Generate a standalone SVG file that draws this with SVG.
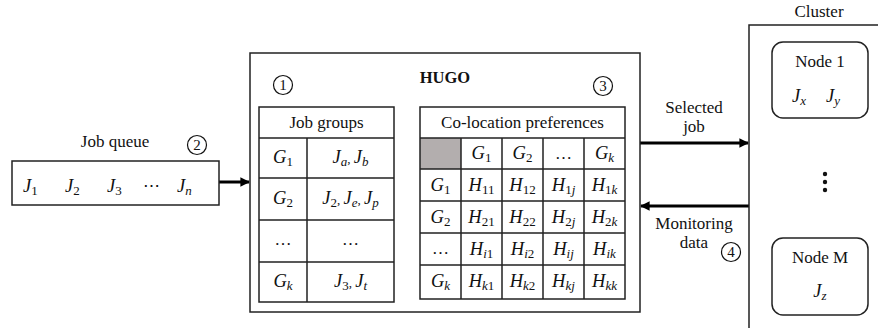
<svg xmlns="http://www.w3.org/2000/svg" width="878" height="328" viewBox="0 0 878 328" font-family="'Liberation Serif', Tinos, 'Times New Roman', 'DejaVu Serif', serif">
<style>
text{font-family:'Liberation Serif',Tinos,'Times New Roman','DejaVu Serif',serif;fill:#111}
.t{font-size:17px}
.c{text-anchor:middle}
.m{font-size:18.5px;font-style:italic;text-anchor:middle}
.ms{font-size:18.5px;font-style:italic}
.s{font-size:13px;font-style:normal}
.i{font-style:italic}
.box{fill:#fff;stroke:#222;stroke-width:1.5}
.grid{fill:none;stroke:#222;stroke-width:1.5}
.num{fill:#fff;stroke:#111;stroke-width:1.2}
.nt{font-size:15px;text-anchor:middle}
.arr{stroke:#000;stroke-width:3;fill:none}
</style>
<defs>
<marker id="ah" viewBox="0 0 10 10" refX="9" refY="5" markerWidth="3.2" markerHeight="3.2" orient="auto" markerUnits="strokeWidth">
<path d="M0,0 L10,5 L0,10 Z" fill="#000"/>
</marker>
</defs>

<g id="connectors">
<line class="arr" x1="219" y1="182" x2="249" y2="182" marker-end="url(#ah)"/>
<line class="arr" x1="640" y1="143" x2="748" y2="143" marker-end="url(#ah)"/>
<line class="arr" x1="749" y1="206" x2="641" y2="206" marker-end="url(#ah)"/>
<text class="t c" x="694" y="113">Selected</text>
<text class="t c" x="694" y="132">job</text>
<text class="t c" x="694" y="229">Monitoring</text>
<text class="t c" x="694" y="248">data</text>
<circle class="num" cx="731" cy="252" r="9.5"/>
<text class="nt" x="731" y="257">4</text>
</g>

<g id="job-queue">
<text class="t c" x="115" y="147">Job queue</text>
<circle class="num" cx="197" cy="145" r="9.5"/>
<text class="nt" x="197" y="150">2</text>
<rect class="box" x="12" y="161" width="207" height="44"/>
<text class="ms" x="23" y="192">J<tspan class="s" dy="3">1</tspan></text>
<text class="ms" x="65" y="192">J<tspan class="s" dy="3">2</tspan></text>
<text class="ms" x="107" y="192">J<tspan class="s" dy="3">3</tspan></text>
<text class="t" x="143" y="191">⋯</text>
<text class="ms" x="177" y="192">J<tspan class="s i" dy="3">n</tspan></text>
</g>

<g id="hugo">
<rect class="box" x="250" y="53" width="390" height="259"/>
<text x="445" y="83" style="font-size:16.5px;font-weight:bold;text-anchor:middle">HUGO</text>
<circle class="num" cx="283" cy="85" r="9.5"/>
<text class="nt" x="283" y="90">1</text>
<circle class="num" cx="603" cy="86" r="9.5"/>
<text class="nt" x="603" y="91">3</text>

<g id="job-groups">
<rect class="grid" x="259" y="107" width="135" height="195" fill="#fff"/>
<path class="grid" d="M259,138H394M259,178H394M259,220H394M259,262H394M307,138V302"/>
<text class="t c" x="326.5" y="128">Job groups</text>
<text class="m" x="283" y="163">G<tspan class="s" dy="3">1</tspan></text>
<text class="m" x="283" y="204">G<tspan class="s" dy="3">2</tspan></text>
<text class="t c" x="283" y="245">…</text>
<text class="m" x="283" y="287">G<tspan class="s i" dy="3">k</tspan></text>
<text class="m" x="350.5" y="163">J<tspan class="s i" dy="3">a</tspan><tspan class="s" dy="-3">, </tspan>J<tspan class="s i" dy="3">b</tspan></text>
<text class="m" x="350.5" y="204">J<tspan class="s" dy="3">2</tspan><tspan class="s" dy="-3">, </tspan>J<tspan class="s i" dy="3">e</tspan><tspan class="s" dy="-3">, </tspan>J<tspan class="s i" dy="3">p</tspan></text>
<text class="t c" x="350.5" y="245">…</text>
<text class="m" x="350.5" y="287">J<tspan class="s" dy="3">3</tspan><tspan class="s" dy="-3">, </tspan>J<tspan class="s i" dy="3">t</tspan></text>
</g>

<g id="co-location">
<rect x="420" y="138" width="41" height="31" fill="#b3aeae"/>
<rect class="grid" x="420" y="107" width="205" height="192"/>
<path class="grid" d="M420,138H625M420,169H625M420,201H625M420,233H625M420,265H625M461,138V299M502,138V299M543,138V299M584,138V299"/>
<text class="t c" x="522.5" y="128">Co-location preferences</text>
<text class="m" x="481.5" y="159">G<tspan class="s" dy="3">1</tspan></text>
<text class="m" x="522.5" y="159">G<tspan class="s" dy="3">2</tspan></text>
<text class="t c" x="563.5" y="159">…</text>
<text class="m" x="604.5" y="159">G<tspan class="s i" dy="3">k</tspan></text>
<text class="m" x="440.5" y="191">G<tspan class="s" dy="3">1</tspan></text>
<text class="m" x="440.5" y="223">G<tspan class="s" dy="3">2</tspan></text>
<text class="t c" x="440.5" y="254">…</text>
<text class="m" x="440.5" y="287">G<tspan class="s i" dy="3">k</tspan></text>
<text class="m" x="481.5" y="191">H<tspan class="s" dy="3">11</tspan></text>
<text class="m" x="522.5" y="191">H<tspan class="s" dy="3">12</tspan></text>
<text class="m" x="563.5" y="191">H<tspan class="s" dy="3">1<tspan class="i">j</tspan></tspan></text>
<text class="m" x="604.5" y="191">H<tspan class="s" dy="3">1<tspan class="i">k</tspan></tspan></text>
<text class="m" x="481.5" y="223">H<tspan class="s" dy="3">21</tspan></text>
<text class="m" x="522.5" y="223">H<tspan class="s" dy="3">22</tspan></text>
<text class="m" x="563.5" y="223">H<tspan class="s" dy="3">2<tspan class="i">j</tspan></tspan></text>
<text class="m" x="604.5" y="223">H<tspan class="s" dy="3">2<tspan class="i">k</tspan></tspan></text>
<text class="m" x="481.5" y="255">H<tspan class="s" dy="3"><tspan class="i">i</tspan>1</tspan></text>
<text class="m" x="522.5" y="255">H<tspan class="s" dy="3"><tspan class="i">i</tspan>2</tspan></text>
<text class="m" x="563.5" y="255">H<tspan class="s i" dy="3">ij</tspan></text>
<text class="m" x="604.5" y="255">H<tspan class="s i" dy="3">ik</tspan></text>
<text class="m" x="481.5" y="287">H<tspan class="s" dy="3"><tspan class="i">k</tspan>1</tspan></text>
<text class="m" x="522.5" y="287">H<tspan class="s" dy="3"><tspan class="i">k</tspan>2</tspan></text>
<text class="m" x="563.5" y="287">H<tspan class="s i" dy="3">kj</tspan></text>
<text class="m" x="604.5" y="287">H<tspan class="s i" dy="3">kk</tspan></text>
</g>
</g>

<g id="cluster">
<text class="t c" x="819" y="17">Cluster</text>
<rect class="box" x="749" y="25" width="200" height="320"/>
<circle cx="825" cy="174" r="2.2" fill="#111"/>
<circle cx="825" cy="182" r="2.2" fill="#111"/>
<circle cx="825" cy="190" r="2.2" fill="#111"/>
</g>

<g id="node-1">
<rect class="box" x="772" y="42" width="96" height="76" rx="11"/>
<text class="t c" x="820" y="67">Node 1</text>
<text class="ms" x="792" y="102">J<tspan class="s i" dy="3">x</tspan></text>
<text class="ms" x="826" y="102">J<tspan class="s i" dy="3">y</tspan></text>
</g>

<g id="node-m">
<rect class="box" x="772" y="238" width="96" height="77" rx="11"/>
<text class="t c" x="820" y="263">Node M</text>
<text class="m" x="820" y="297">J<tspan class="s i" dy="3">z</tspan></text>
</g>
</svg>
